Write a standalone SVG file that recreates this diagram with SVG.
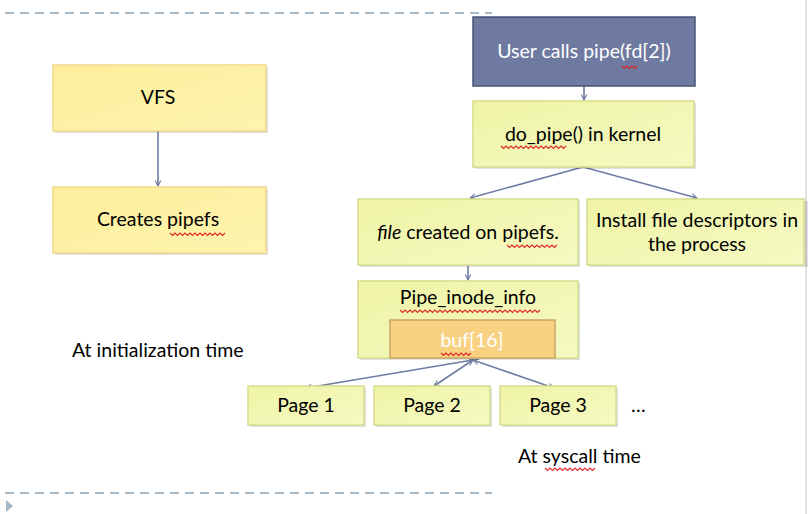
<svg xmlns="http://www.w3.org/2000/svg" width="810" height="514" viewBox="0 0 810 514">
<defs>
<style>
.t{font-family:Lato,"Open Sans","Liberation Sans",sans-serif;font-size:19.5px;fill:#000;text-anchor:middle}
.tl{font-family:Lato,"Open Sans","Liberation Sans",sans-serif;font-size:19.5px;fill:#000}
.w{fill:#fff}
.yl{fill:url(#gl);stroke:#f3d88c;stroke-width:1.5}
.yr{fill:url(#gr);stroke:#d6dc8c;stroke-width:1.5}
.sh{fill:#000;opacity:0.12}
.c{stroke:#6f7ba3;stroke-width:1.6;fill:none}
.sq{stroke:#e02828;stroke-width:1.1;fill:none}
.dash{stroke:#a3b8c8;stroke-width:2;stroke-dasharray:9 6}
</style>
<linearGradient id="gl" x1="0" y1="0" x2="1" y2="1">
<stop offset="0" stop-color="#fdee9c"/><stop offset="1" stop-color="#fdf4ae"/>
</linearGradient>
<linearGradient id="gr" x1="0" y1="0" x2="1" y2="1">
<stop offset="0" stop-color="#eff4a6"/><stop offset="1" stop-color="#f6f9c2"/>
</linearGradient>
<marker id="ah" viewBox="0 0 10 10" refX="9" refY="5" markerWidth="7" markerHeight="7" orient="auto-start-reverse" markerUnits="userSpaceOnUse">
<path d="M1,1 L9,5 L1,9" fill="none" stroke="#6f7ba3" stroke-width="1.6"/>
</marker>
</defs>
<rect width="810" height="514" fill="#fff"/>
<line x1="806" y1="0" x2="806" y2="514" stroke="#d8d8d8" stroke-width="1.5"/>
<line class="dash" x1="5" y1="13" x2="492" y2="13"/>
<line class="dash" x1="5" y1="493" x2="492" y2="493"/>
<path d="M6,500 L13,506 L6,512 Z" fill="#a3b8c8"/>

<g id="connectors">
<line class="c" x1="158" y1="131" x2="158" y2="186" marker-end="url(#ah)"/>
<line class="c" x1="584" y1="86" x2="584" y2="100" marker-end="url(#ah)"/>
<line class="c" x1="583" y1="167" x2="470" y2="198" marker-end="url(#ah)"/>
<line class="c" x1="583" y1="167" x2="697" y2="198" marker-end="url(#ah)"/>
<line class="c" x1="468" y1="266" x2="468" y2="280" marker-end="url(#ah)"/>
<line class="c" x1="473" y1="360" x2="306" y2="388" marker-start="url(#ah)" marker-end="url(#ah)"/>
<line class="c" x1="473" y1="360" x2="434" y2="386" marker-start="url(#ah)" marker-end="url(#ah)"/>
<line class="c" x1="473" y1="360" x2="554" y2="388" marker-start="url(#ah)" marker-end="url(#ah)"/>
</g>

<g id="vfs">
<rect class="sh" x="55" y="67" width="213" height="66"/>
<rect class="yl" x="53" y="65" width="213" height="66"/>
<text class="t" x="158" y="104">VFS</text>
</g>
<g id="creates-pipefs">
<rect class="sh" x="55" y="189" width="213" height="66"/>
<rect class="yl" x="53" y="187" width="213" height="66"/>
<text class="t" x="158" y="226">Creates pipefs</text>
</g>
<g id="user-calls">
<rect x="473" y="17" width="222" height="69" fill="#6f7aa0" stroke="#4b5375" stroke-width="1.5"/>
<text class="t w" x="584" y="58">User calls pipe(fd[2])</text>
</g>
<g id="do-pipe">
<rect class="sh" x="475" y="103" width="221" height="66"/>
<rect class="yr" x="473" y="101" width="221" height="66"/>
<text class="t" x="583" y="141">do_pipe() in kernel</text>
</g>
<g id="file-created">
<rect class="sh" x="360" y="201" width="220" height="66"/>
<rect class="yr" x="358" y="199" width="220" height="66"/>
<text class="t" x="468" y="239"><tspan font-style="italic">file</tspan> created on pipefs.</text>
</g>
<g id="install-fd">
<rect class="sh" x="589" y="201" width="219" height="66"/>
<rect class="yr" x="587" y="199" width="217" height="66"/>
<text class="t" x="697" y="227">Install file descriptors in</text>
<text class="t" x="697" y="251">the process</text>
</g>
<g id="pipe-inode-info">
<rect class="sh" x="360" y="283" width="220" height="77"/>
<rect class="yr" x="358" y="281" width="220" height="77"/>
<text class="t" x="468" y="304">Pipe_inode_info</text>
<rect x="390" y="320" width="165" height="38" fill="#f8d282" stroke="#c9a466" stroke-width="1.5"/>
<text class="t w" x="472" y="347">buf[16]</text>
</g>
<g id="page1">
<rect class="sh" x="250" y="388" width="116" height="39"/>
<rect class="yr" x="248" y="386" width="116" height="39"/>
<text class="t" x="306" y="412">Page 1</text>
</g>
<g id="page2">
<rect class="sh" x="376" y="388" width="116" height="39"/>
<rect class="yr" x="374" y="386" width="116" height="39"/>
<text class="t" x="432" y="412">Page 2</text>
</g>
<g id="page3">
<rect class="sh" x="502" y="388" width="116" height="39"/>
<rect class="yr" x="500" y="386" width="116" height="39"/>
<text class="t" x="558" y="412">Page 3</text>
</g>
<text class="tl" x="631" y="412">…</text>
<text class="tl" x="72" y="357">At initialization time</text>
<text class="tl" x="518" y="463">At syscall time</text>

<g id="spellcheck">
<path class="sq" d="M622,66 l2.5,2.5 l2.5,-2.5 l2.5,2.5 l2.5,-2.5 l2.5,2.5 l2.5,-2.5"/>
<path class="sq" d="M501,146 l2.5,2.5 l2.5,-2.5 l2.5,2.5 l2.5,-2.5 l2.5,2.5 l2.5,-2.5 l2.5,2.5 l2.5,-2.5 l2.5,2.5 l2.5,-2.5 l2.5,2.5 l2.5,-2.5 l2.5,2.5 l2.5,-2.5 l2.5,2.5 l2.5,-2.5 l2.5,2.5 l2.5,-2.5 l2.5,2.5 l2.5,-2.5 l2.5,2.5 l2.5,-2.5 l2.5,2.5 l2.5,-2.5 l2.5,2.5 l2.5,-2.5"/>
<path class="sq" d="M507,245 l2.5,2.5 l2.5,-2.5 l2.5,2.5 l2.5,-2.5 l2.5,2.5 l2.5,-2.5 l2.5,2.5 l2.5,-2.5 l2.5,2.5 l2.5,-2.5 l2.5,2.5 l2.5,-2.5 l2.5,2.5 l2.5,-2.5 l2.5,2.5 l2.5,-2.5 l2.5,2.5 l2.5,-2.5 l2.5,2.5 l2.5,-2.5"/>
<path class="sq" d="M400,310 l2.5,2.5 l2.5,-2.5 l2.5,2.5 l2.5,-2.5 l2.5,2.5 l2.5,-2.5 l2.5,2.5 l2.5,-2.5 l2.5,2.5 l2.5,-2.5 l2.5,2.5 l2.5,-2.5 l2.5,2.5 l2.5,-2.5 l2.5,2.5 l2.5,-2.5 l2.5,2.5 l2.5,-2.5 l2.5,2.5 l2.5,-2.5 l2.5,2.5 l2.5,-2.5 l2.5,2.5 l2.5,-2.5 l2.5,2.5 l2.5,-2.5 l2.5,2.5 l2.5,-2.5 l2.5,2.5 l2.5,-2.5 l2.5,2.5 l2.5,-2.5 l2.5,2.5 l2.5,-2.5 l2.5,2.5 l2.5,-2.5 l2.5,2.5 l2.5,-2.5 l2.5,2.5 l2.5,-2.5 l2.5,2.5 l2.5,-2.5 l2.5,2.5 l2.5,-2.5 l2.5,2.5 l2.5,-2.5 l2.5,2.5 l2.5,-2.5 l2.5,2.5 l2.5,-2.5 l2.5,2.5 l2.5,-2.5 l2.5,2.5 l2.5,-2.5 l2.5,2.5 l2.5,-2.5"/>
<path class="sq" d="M441,353 l2.5,2.5 l2.5,-2.5 l2.5,2.5 l2.5,-2.5 l2.5,2.5 l2.5,-2.5 l2.5,2.5 l2.5,-2.5 l2.5,2.5 l2.5,-2.5 l2.5,2.5 l2.5,-2.5"/>
<path class="sq" d="M170,233 l2.5,2.5 l2.5,-2.5 l2.5,2.5 l2.5,-2.5 l2.5,2.5 l2.5,-2.5 l2.5,2.5 l2.5,-2.5 l2.5,2.5 l2.5,-2.5 l2.5,2.5 l2.5,-2.5 l2.5,2.5 l2.5,-2.5 l2.5,2.5 l2.5,-2.5 l2.5,2.5 l2.5,-2.5 l2.5,2.5 l2.5,-2.5 l2.5,2.5 l2.5,-2.5"/>
<path class="sq" d="M545,468 l2.5,2.5 l2.5,-2.5 l2.5,2.5 l2.5,-2.5 l2.5,2.5 l2.5,-2.5 l2.5,2.5 l2.5,-2.5 l2.5,2.5 l2.5,-2.5 l2.5,2.5 l2.5,-2.5 l2.5,2.5 l2.5,-2.5 l2.5,2.5 l2.5,-2.5 l2.5,2.5 l2.5,-2.5 l2.5,2.5 l2.5,-2.5"/>
</g>
</svg>
